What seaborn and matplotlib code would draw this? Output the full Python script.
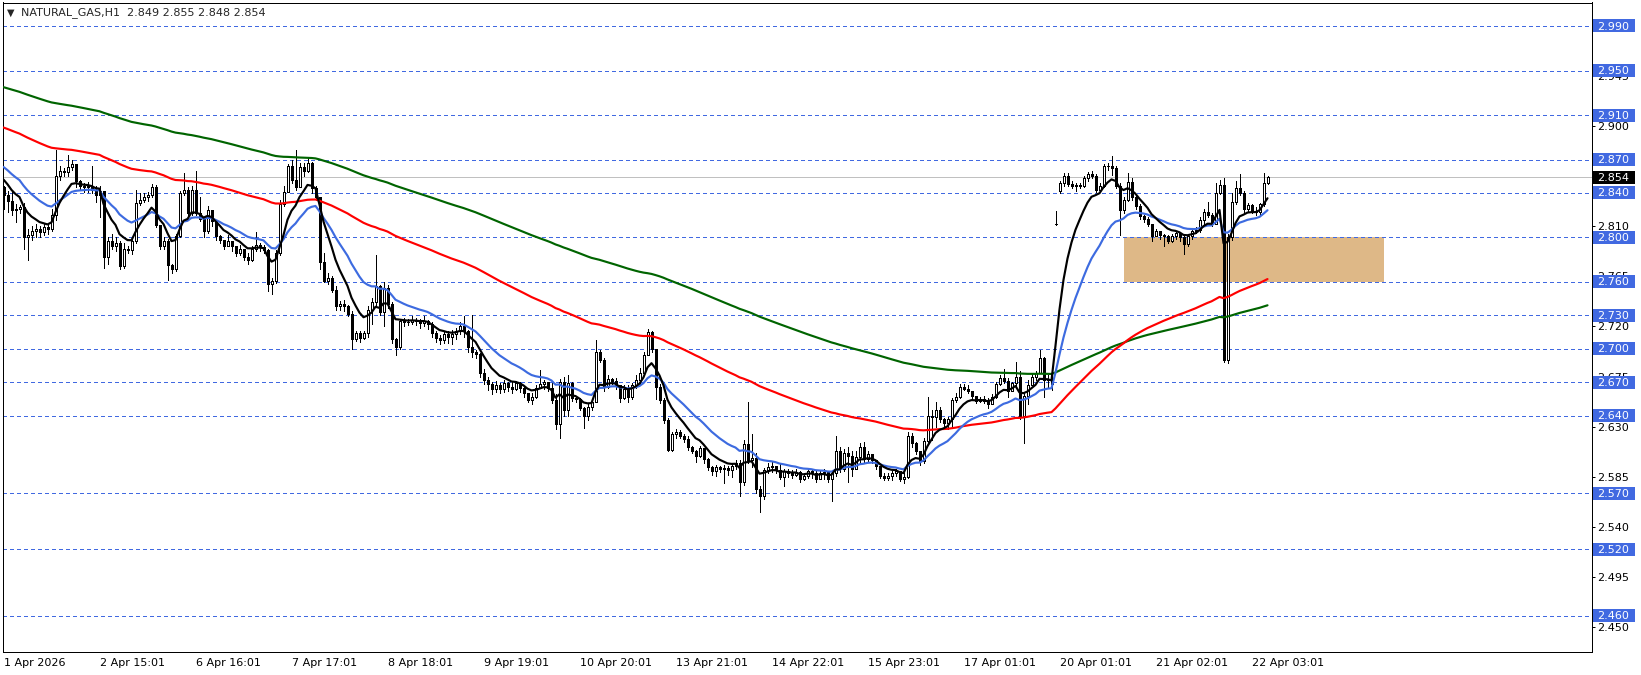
import numpy as np
import pandas as pd
import matplotlib
matplotlib.use("Agg")
import matplotlib.pyplot as plt
import matplotlib.transforms as mtransforms
from matplotlib.patches import Rectangle
import seaborn as sns

# --- data (H1 bars, oldest first) ---
symbol = "NATURAL_GAS,H1"
last_quote = [2.849, 2.855, 2.848, 2.854]
first_open = 2.845

closes = [
    2.838, 2.833, 2.825, 2.826, 2.827, 2.800, 2.802, 2.806, 2.808, 2.805,
    2.809, 2.808, 2.820, 2.855, 2.860, 2.859, 2.863, 2.866, 2.851, 2.846,
    2.845, 2.846, 2.843, 2.838, 2.842, 2.782, 2.797, 2.792, 2.795, 2.774,
    2.790, 2.789, 2.797, 2.831, 2.834, 2.836, 2.838, 2.845, 2.811, 2.792,
    2.797, 2.775, 2.772, 2.801, 2.840, 2.843, 2.822, 2.843, 2.822, 2.817,
    2.806, 2.825, 2.815, 2.801, 2.798, 2.792, 2.797, 2.792, 2.786, 2.790,
    2.782, 2.780, 2.790, 2.793, 2.791, 2.789, 2.758, 2.761, 2.786, 2.830,
    2.841, 2.864, 2.852, 2.845, 2.863, 2.860, 2.867, 2.844, 2.836, 2.778,
    2.761, 2.764, 2.753, 2.738, 2.740, 2.738, 2.731, 2.709, 2.714, 2.710,
    2.714, 2.735, 2.742, 2.756, 2.733, 2.755, 2.740, 2.709, 2.702, 2.725,
    2.724, 2.724, 2.726, 2.725, 2.723, 2.725, 2.722, 2.714, 2.710, 2.708,
    2.713, 2.711, 2.713, 2.716, 2.720, 2.716, 2.702, 2.697, 2.695, 2.678,
    2.672, 2.668, 2.664, 2.667, 2.664, 2.669, 2.666, 2.664, 2.669, 2.665,
    2.660, 2.654, 2.657, 2.665, 2.668, 2.670, 2.665, 2.654, 2.632, 2.670,
    2.645, 2.669, 2.656, 2.655, 2.647, 2.640, 2.648, 2.652, 2.697, 2.690,
    2.666, 2.673, 2.671, 2.667, 2.656, 2.664, 2.657, 2.667, 2.672, 2.678,
    2.694, 2.715, 2.700, 2.666, 2.654, 2.636, 2.609, 2.623, 2.625, 2.622,
    2.619, 2.612, 2.608, 2.604, 2.611, 2.601, 2.594, 2.590, 2.594, 2.592,
    2.593, 2.591, 2.595, 2.597, 2.580, 2.614, 2.600, 2.602, 2.574, 2.568,
    2.591, 2.594, 2.595, 2.591, 2.585, 2.590, 2.588, 2.587, 2.589, 2.583,
    2.586, 2.590, 2.588, 2.583, 2.588, 2.589, 2.583, 2.588, 2.608, 2.592,
    2.606, 2.604, 2.592, 2.603, 2.612, 2.601, 2.605, 2.600, 2.595, 2.586,
    2.584, 2.586, 2.588, 2.590, 2.583, 2.585, 2.622, 2.615, 2.608, 2.599,
    2.617, 2.640, 2.639, 2.645, 2.637, 2.633, 2.637, 2.654, 2.657, 2.666,
    2.664, 2.662, 2.658, 2.653, 2.655, 2.653, 2.650, 2.657, 2.668, 2.674,
    2.671, 2.662, 2.669, 2.675, 2.640, 2.658, 2.667, 2.675, 2.678, 2.692,
    2.672, 2.672, 2.668, 2.8125, 2.849, 2.855, 2.848, 2.846, 2.847, 2.846,
    2.853, 2.857, 2.855, 2.843, 2.846, 2.864, 2.864, 2.862, 2.846, 2.825,
    2.834, 2.850, 2.836, 2.828, 2.819, 2.817, 2.812, 2.801, 2.806, 2.802,
    2.801, 2.797, 2.801, 2.804, 2.800, 2.794, 2.801, 2.806, 2.807, 2.816,
    2.823, 2.820, 2.812, 2.840, 2.847, 2.690, 2.800, 2.832, 2.844, 2.840,
    2.826, 2.829, 2.824, 2.823, 2.830, 2.849, 2.854,
]

highs = [
    2.846, 2.842, 2.841, 2.830, 2.829, 2.831, 2.808, 2.810, 2.812, 2.810,
    2.812, 2.813, 2.826, 2.879, 2.864, 2.862, 2.874, 2.870, 2.866, 2.852,
    2.849, 2.850, 2.864, 2.846, 2.846, 2.842, 2.800, 2.803, 2.800, 2.797,
    2.795, 2.792, 2.800, 2.843, 2.840, 2.840, 2.841, 2.848, 2.847, 2.811,
    2.800, 2.799, 2.776, 2.803, 2.842, 2.858, 2.845, 2.846, 2.860, 2.836,
    2.818, 2.828, 2.825, 2.816, 2.802, 2.798, 2.802, 2.797, 2.792, 2.793,
    2.790, 2.786, 2.792, 2.805, 2.795, 2.793, 2.790, 2.764, 2.789, 2.834,
    2.846, 2.866, 2.870, 2.879, 2.867, 2.867, 2.871, 2.868, 2.846, 2.836,
    2.786, 2.768, 2.765, 2.756, 2.743, 2.744, 2.739, 2.734, 2.716, 2.716,
    2.716, 2.738, 2.746, 2.784, 2.757, 2.760, 2.757, 2.742, 2.710, 2.727,
    2.728, 2.727, 2.729, 2.728, 2.727, 2.729, 2.726, 2.724, 2.716, 2.712,
    2.716, 2.716, 2.717, 2.719, 2.724, 2.729, 2.717, 2.730, 2.699, 2.696,
    2.682, 2.675, 2.670, 2.671, 2.669, 2.672, 2.670, 2.670, 2.671, 2.670,
    2.666, 2.658, 2.660, 2.667, 2.681, 2.672, 2.670, 2.671, 2.659, 2.673,
    2.675, 2.676, 2.670, 2.658, 2.656, 2.648, 2.650, 2.654, 2.708, 2.699,
    2.692, 2.676, 2.674, 2.674, 2.667, 2.667, 2.667, 2.669, 2.676, 2.683,
    2.697, 2.718, 2.716, 2.700, 2.668, 2.656, 2.638, 2.625, 2.628, 2.627,
    2.623, 2.622, 2.613, 2.609, 2.613, 2.611, 2.602, 2.595, 2.596, 2.595,
    2.596, 2.595, 2.597, 2.600, 2.600, 2.618, 2.652, 2.623, 2.606, 2.577,
    2.593, 2.597, 2.598, 2.595, 2.597, 2.592, 2.592, 2.591, 2.592, 2.590,
    2.588, 2.593, 2.592, 2.590, 2.590, 2.592, 2.588, 2.590, 2.622, 2.612,
    2.610, 2.612, 2.608, 2.608, 2.615, 2.616, 2.608, 2.604, 2.600, 2.593,
    2.588, 2.588, 2.590, 2.592, 2.590, 2.588, 2.625, 2.624, 2.616, 2.608,
    2.620, 2.657, 2.645, 2.652, 2.648, 2.638, 2.639, 2.656, 2.660, 2.668,
    2.668, 2.667, 2.662, 2.658, 2.657, 2.658, 2.656, 2.659, 2.670, 2.676,
    2.682, 2.674, 2.670, 2.688, 2.680, 2.661, 2.672, 2.677, 2.680, 2.699,
    2.693, 2.676, 2.675, 2.824, 2.851, 2.858, 2.858, 2.851, 2.849, 2.849,
    2.855, 2.859, 2.860, 2.857, 2.849, 2.866, 2.867, 2.873, 2.864, 2.849,
    2.836, 2.858, 2.853, 2.838, 2.830, 2.820, 2.818, 2.807, 2.808, 2.805,
    2.803, 2.802, 2.803, 2.806, 2.804, 2.801, 2.803, 2.808, 2.809, 2.818,
    2.826, 2.832, 2.822, 2.849, 2.852, 2.853, 2.803, 2.840, 2.851, 2.857,
    2.842, 2.831, 2.830, 2.827, 2.831, 2.858, 2.855,
]

lows = [
    2.826, 2.823, 2.820, 2.814, 2.822, 2.790, 2.780, 2.798, 2.800, 2.800,
    2.802, 2.803, 2.806, 2.816, 2.852, 2.855, 2.855, 2.861, 2.845, 2.843,
    2.841, 2.841, 2.840, 2.832, 2.818, 2.773, 2.776, 2.790, 2.788, 2.772,
    2.773, 2.786, 2.785, 2.795, 2.829, 2.832, 2.833, 2.836, 2.809, 2.790,
    2.790, 2.762, 2.768, 2.770, 2.800, 2.838, 2.820, 2.820, 2.820, 2.815,
    2.800, 2.804, 2.810, 2.798, 2.795, 2.790, 2.794, 2.788, 2.783, 2.784,
    2.780, 2.776, 2.779, 2.788, 2.788, 2.786, 2.752, 2.749, 2.759, 2.784,
    2.828, 2.845, 2.849, 2.843, 2.847, 2.855, 2.859, 2.840, 2.834, 2.772,
    2.760, 2.758, 2.751, 2.735, 2.735, 2.734, 2.729, 2.700, 2.707, 2.706,
    2.709, 2.711, 2.722, 2.739, 2.730, 2.720, 2.737, 2.705, 2.694, 2.700,
    2.720, 2.721, 2.722, 2.721, 2.719, 2.720, 2.718, 2.711, 2.706, 2.704,
    2.705, 2.705, 2.704, 2.709, 2.713, 2.711, 2.697, 2.693, 2.692, 2.675,
    2.668, 2.663, 2.659, 2.661, 2.660, 2.661, 2.662, 2.660, 2.663, 2.661,
    2.657, 2.652, 2.650, 2.656, 2.665, 2.664, 2.662, 2.651, 2.628, 2.620,
    2.640, 2.640, 2.653, 2.652, 2.645, 2.629, 2.636, 2.645, 2.680, 2.688,
    2.662, 2.665, 2.668, 2.664, 2.652, 2.655, 2.652, 2.655, 2.665, 2.668,
    2.676, 2.694, 2.697, 2.655, 2.651, 2.633, 2.608, 2.608, 2.620, 2.620,
    2.616, 2.609, 2.606, 2.598, 2.603, 2.597, 2.591, 2.587, 2.586, 2.589,
    2.579, 2.587, 2.585, 2.592, 2.568, 2.578, 2.597, 2.594, 2.570, 2.553,
    2.565, 2.588, 2.589, 2.588, 2.583, 2.577, 2.585, 2.584, 2.586, 2.580,
    2.582, 2.584, 2.584, 2.580, 2.583, 2.583, 2.580, 2.563, 2.586, 2.589,
    2.590, 2.580, 2.586, 2.595, 2.597, 2.598, 2.599, 2.597, 2.592, 2.584,
    2.582, 2.582, 2.582, 2.586, 2.581, 2.579, 2.584, 2.612, 2.605, 2.596,
    2.597, 2.614, 2.618, 2.630, 2.634, 2.630, 2.628, 2.630, 2.652, 2.656,
    2.663, 2.660, 2.655, 2.651, 2.652, 2.651, 2.647, 2.650, 2.656, 2.667,
    2.669, 2.657, 2.662, 2.666, 2.637, 2.615, 2.650, 2.667, 2.672, 2.680,
    2.657, 2.665, 2.663, 2.811, 2.840, 2.846, 2.846, 2.844, 2.842, 2.844,
    2.845, 2.851, 2.853, 2.841, 2.842, 2.845, 2.861, 2.856, 2.844, 2.8025,
    2.822, 2.833, 2.834, 2.826, 2.817, 2.814, 2.810, 2.797, 2.802, 2.799,
    2.792, 2.795, 2.796, 2.799, 2.797, 2.785, 2.792, 2.799, 2.804, 2.805,
    2.812, 2.818, 2.810, 2.812, 2.839, 2.688, 2.687, 2.798, 2.830, 2.838,
    2.822, 2.824, 2.822, 2.820, 2.820, 2.828, 2.848,
]

# bars whose open gapped away from the previous close
gap_opens = {263: 2.812, 264: 2.842}

# moving averages: period, value just before the first bar, colour
ema_periods = [200, 100, 20, 8]
ema_seeds = [2.936, 2.900, 2.866, 2.856]
ema_colors = ["#006400", "#ff0000", "#3d6be0", "#000000"]

level_prices = [2.990, 2.950, 2.910, 2.870, 2.840, 2.800, 2.760, 2.730,
                2.700, 2.670, 2.640, 2.570, 2.520, 2.460]
axis_ticks = [2.945, 2.900, 2.855, 2.810, 2.765, 2.720, 2.675, 2.630,
              2.585, 2.540, 2.495, 2.450]
date_labels = ["1 Apr 2026", "2 Apr 15:01", "6 Apr 16:01", "7 Apr 17:01",
               "8 Apr 18:01", "9 Apr 19:01", "10 Apr 20:01", "13 Apr 21:01",
               "14 Apr 22:01", "15 Apr 23:01", "17 Apr 01:01", "20 Apr 01:01",
               "21 Apr 02:01", "22 Apr 03:01"]
label_every = 24

zone_low, zone_high = 2.760, 2.800
zone_start, zone_end = 280, 345

# --- build frame ---
opens = [first_open] + closes[:-1]
for k, v in gap_opens.items():
    opens[k] = v
df = pd.DataFrame({"open": opens, "high": highs, "low": lows, "close": closes})
df["high"] = df[["open", "high", "close"]].max(axis=1)
df["low"] = df[["open", "low", "close"]].min(axis=1)
df["bar"] = np.arange(len(df))

sns.set_style("white")
plt.rcParams["font.family"] = ["DejaVu Sans"]
fs = 8

W, H = 1641, 675
fig = plt.figure(figsize=(W / 100, H / 100), dpi=100)
ax_l, ax_r, ax_t, ax_b = 2.5, 1591.5, 2.5, 651.5
ax = fig.add_axes([ax_l / W, (H - ax_b) / H, (ax_r - ax_l) / W, (ax_b - ax_t) / H])

bar_px = 4.0
ax.set_xlim(-0.25, -0.25 + (ax_r - ax_l) / bar_px)
ax.set_ylim(2.4280, 3.0111)

px = 0.72  # one pixel in points
blue = "#4169e1"

# supply/demand zone
ax.add_patch(Rectangle((zone_start, zone_low), zone_end - zone_start, zone_high - zone_low,
                       facecolor="#deb887", edgecolor="none", zorder=1))

for p in level_prices:
    ax.axhline(p, color=blue, linewidth=px, linestyle=(0, (3, 3)), zorder=2, antialiased=False)
ax.axhline(last_quote[3], color="#c0c0c0", linewidth=px, zorder=1.5, antialiased=False)

# candles
ax.vlines(df["bar"], df["low"], df["high"], color="black", linewidth=px, zorder=3,
          antialiased=False)
up = df["close"] >= df["open"]
dn = ~up
ax.bar(df.loc[up, "bar"], (df["close"] - df["open"])[up], bottom=df.loc[up, "open"],
       width=0.5, facecolor="white", edgecolor="black", linewidth=px, zorder=4,
       antialiased=False)
ax.bar(df.loc[dn, "bar"], (df["open"] - df["close"])[dn], bottom=df.loc[dn, "close"],
       width=0.5, facecolor="black", edgecolor="black", linewidth=px, zorder=4,
       antialiased=False)

# moving averages
for period, seed, color in zip(ema_periods, ema_seeds, ema_colors):
    ema = pd.Series([seed] + closes).ewm(span=period, adjust=False).mean().iloc[1:].to_numpy()
    sns.lineplot(x=df["bar"], y=ema, color=color, linewidth=1.55, ax=ax, zorder=5)

# axes styling
for s in ax.spines.values():
    s.set_color("black")
    s.set_linewidth(px)
ax.set_xlabel("")
ax.set_ylabel("")
ax.yaxis.tick_right()
ax.set_yticks(axis_ticks)
ax.set_yticklabels([f"{t:.3f}" for t in axis_ticks])
ax.set_xticks(df["bar"].iloc[::label_every].to_numpy()[:len(date_labels)])
ax.set_xticklabels(date_labels, ha="left")
ax.tick_params(axis="y", length=2.2, width=px, pad=2, labelsize=fs, colors="black", direction="out")
ax.tick_params(axis="x", length=2.8, width=px, pad=2, labelsize=fs, colors="black", direction="out")
for lab in ax.get_xticklabels():
    lab.set_x(lab.get_position()[0])

# price labels on the right
trans = mtransforms.blended_transform_factory(ax.transAxes, ax.transData)
box_w = 42 / (ax_r - ax_l)
box_h = 13 / ((ax_b - ax_t) / (3.0111 - 2.4280))
box_x = (1593.3 - ax_l) / (ax_r - ax_l)
txt_x = (1597.5 - ax_l) / (ax_r - ax_l)
for p, fc in [(p, blue) for p in level_prices] + [(last_quote[3], "black")]:
    ax.add_patch(Rectangle((box_x, p - box_h / 2), box_w, box_h, transform=trans,
                           facecolor=fc, edgecolor="none", clip_on=False, zorder=6))
    ax.text(txt_x, p - box_h * 0.04, f"{p:.3f}", transform=trans, color="white",
            fontsize=fs, ha="left", va="center", clip_on=False, zorder=7)

# title
ty = (ax_b - 12.5) / (ax_b - ax_t)
ax.text((6.5 - ax_l) / (ax_r - ax_l), ty, "\u25bc", transform=ax.transAxes, fontsize=7,
        va="center", ha="left", zorder=7)
ax.text((21 - ax_l) / (ax_r - ax_l), ty,
        f"{symbol}  " + " ".join(f"{v:.3f}" for v in last_quote),
        transform=ax.transAxes, fontsize=fs, va="center", ha="left", zorder=7)

fig.savefig("out.png", dpi=100, facecolor="white")
